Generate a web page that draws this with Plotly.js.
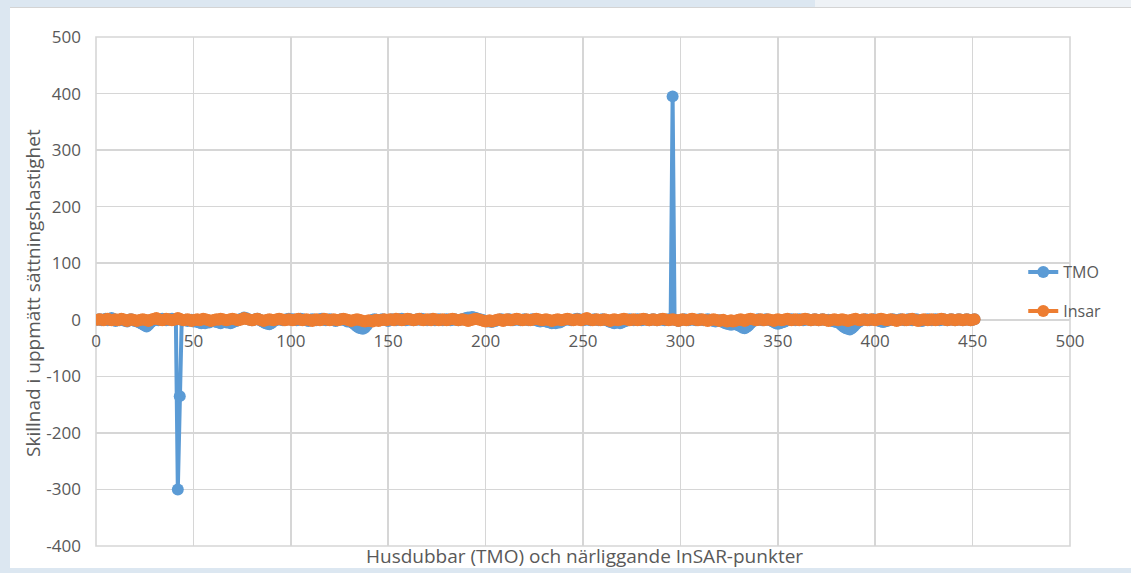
<!DOCTYPE html>
<html>
<head>
<meta charset="utf-8">
<script src="https://cdn.plot.ly/plotly-3.0.1.min.js"></script>
<style>
  html, body { margin: 0; padding: 0; width: 1131px; height: 573px; overflow: hidden; background: #dce7f1; }
  #band { position: absolute; left: 815px; top: 0; width: 316px; height: 7px; background: #eef2f6; }
  #chart { position: absolute; left: 10px; top: 7px; width: 1121px; height: 560px; background: #ffffff;
           border-top: 1px solid #d4d4d4; border-bottom: 1px solid #d8d8d8; box-sizing: border-box; }
</style>
</head>
<body>
<div id="band"></div>
<div id="chart"></div>
<script>
// Differences per point (TMO = Husdubbar, Insar = nearby InSAR points), index 1..451
const tmoValues = [
  0,1,-1,0,2,-1,0,3,1,-2,0,-1,1,0,-2,-3,0,1,-1,-2,
  -3,-4,-6,-8,-10,-12,-9,-5,-2,0,1,-1,0,2,1,-1,0,1,2,0,
  0,-300,-135,0,-1,0,-2,-1,0,-3,-2,-4,-5,-6,-5,-6,-4,-5,-3,-2,
  -3,-4,-5,-6,-4,-3,-5,-4,-6,-5,-3,-2,0,1,2,4,3,1,0,-1,
  0,1,2,0,-2,-4,-6,-7,-8,-6,-3,-1,0,1,0,-1,0,1,2,0,
  1,0,-1,0,2,1,0,-1,-2,0,1,0,-1,0,1,2,0,-1,0,1,
  0,-1,-2,-1,0,1,0,-1,-3,-2,-4,-6,-9,-12,-14,-15,-16,-14,-10,-5,
  -2,0,1,0,-1,0,1,0,-1,-2,0,1,0,-1,0,1,2,0,-1,0,
  1,0,-1,0,1,0,2,1,0,-1,0,1,0,-1,0,1,0,-1,0,1,
  0,-1,0,1,0,-1,0,1,2,3,4,3,5,4,3,2,1,0,-1,-2,
  -3,-2,-4,-3,-2,-1,0,1,0,-1,0,1,0,-1,0,1,0,-1,0,1,
  0,-1,0,1,0,-1,-2,-3,-2,-1,-3,-4,-5,-6,-5,-6,-4,-5,-3,-1,
  0,1,0,-1,0,1,2,1,0,-1,0,1,0,-1,0,1,0,-1,0,1,
  0,-1,-2,-4,-5,-6,-5,-4,-6,-5,-3,-2,0,1,0,-1,0,1,0,-1,
  0,1,0,-1,0,1,0,-1,0,1,0,-1,0,1,0,395,0,-1,-2,-1,
  0,1,0,-1,0,1,0,-1,0,1,0,-1,0,1,0,-1,-2,-3,-2,-1,
  -3,-4,-6,-7,-8,-9,-8,-7,-9,-10,-12,-14,-15,-13,-10,-6,-3,-1,0,1,
  0,-1,0,1,0,-1,-2,-4,-6,-7,-6,-5,-4,-2,-1,0,1,0,-1,0,
  1,0,-1,0,1,0,-1,0,1,0,-1,0,1,0,-1,0,-1,-2,-3,-4,
  -5,-7,-10,-13,-15,-16,-17,-15,-12,-8,-5,-3,-1,0,1,0,-1,0,1,0,
  0,-2,-3,-4,-3,-2,-1,0,1,0,-1,0,1,0,-1,0,1,0,-1,0,
  1,0,-1,-2,-1,0,1,0,-1,0,1,0,-1,0,1,0,-1,0,1,0,
  -1,0,1,0,-1,0,1,0,-1,0,1
];
const insarValues = [
  0,1,0,-1,1,2,0,-1,0,1,-1,0,2,1,-1,-2,0,1,0,-1,
  -2,-1,0,1,0,-1,-2,0,1,2,3,1,0,-1,0,2,1,0,-1,0,
  1,3,2,0,-1,0,1,0,-2,-1,0,1,-1,0,2,1,0,-1,-2,-1,
  0,1,0,2,1,0,-1,0,1,2,1,0,-1,0,1,3,2,1,0,-1,
  0,1,2,0,-1,-2,-1,0,1,0,-1,0,1,2,1,0,-1,0,1,0,
  -1,0,1,2,0,-1,0,1,0,-1,-2,0,1,0,-1,0,2,1,0,-1,
  0,1,0,-1,0,1,2,1,0,-1,-2,-1,0,1,0,-1,-2,-3,-2,-1,
  -2,-3,-1,0,-2,-1,0,1,-1,0,1,0,-1,2,1,0,-1,0,1,2,
  1,0,-1,0,1,2,0,-1,0,1,0,-1,2,1,0,-1,0,1,0,-1,
  0,1,2,1,0,-1,0,1,0,-1,-2,-1,0,1,2,1,0,-1,-2,-3,
  -2,-1,-3,-2,-1,0,1,-1,-2,0,1,0,-1,0,1,2,1,0,-1,0,
  1,0,-1,0,1,2,1,0,-1,0,1,0,-1,-2,-1,0,1,0,-1,0,
  1,2,1,0,-1,0,1,0,-1,0,2,3,1,0,-1,0,1,0,-1,0,
  1,0,-1,-2,0,1,0,-1,0,1,2,1,0,-1,0,1,0,-1,0,1,
  2,1,0,-1,0,1,0,-1,0,1,2,1,0,-1,0,1,0,-1,-2,0,
  1,0,-1,0,1,2,1,0,-1,0,1,0,-1,-2,-1,0,1,0,-1,-2,
  -1,0,-2,-3,-2,-1,-3,-2,-1,0,1,-1,-2,0,1,2,1,0,-1,0,
  1,0,-1,0,1,0,-1,-2,0,1,0,-1,0,1,2,0,-1,0,1,0,
  -1,0,1,2,1,0,-1,0,1,0,-1,0,1,0,-1,-2,-1,0,1,0,
  -1,0,1,0,-1,-2,-1,0,1,2,0,-1,0,1,0,-1,0,1,0,-1,
  0,1,2,1,0,-1,0,1,0,-1,-2,-1,0,1,0,-1,0,1,2,0,
  -1,-2,-1,0,1,0,-1,0,1,0,-1,0,1,2,1,0,-1,0,1,0,
  -1,0,1,0,-1,0,1,0,-1,0,1
];
const pointIndex = tmoValues.map((_, i) => i + 1);
const seriesNames = ['TMO', 'Insar'];
const xTickValues = [0, 50, 100, 150, 200, 250, 300, 350, 400, 450, 500];
const yTickValues = [-400, -300, -200, -100, 0, 100, 200, 300, 400, 500];
const yTitle = 'Skillnad i uppmätt sättningshastighet';
const xTitle = 'Husdubbar (TMO) och närliggande InSAR-punkter';

const FONT = '"Open Sans", "Liberation Sans", sans-serif';
const grid = '#d6d6d6';

const traces = [
  {
    x: pointIndex, y: tmoValues, name: seriesNames[0], type: 'scatter', mode: 'lines+markers',
    line: { color: '#5b9bd5', width: 4 }, marker: { color: '#5b9bd5', size: 12 },
    legend: 'legend'
  },
  {
    x: pointIndex, y: insarValues, name: seriesNames[1], type: 'scatter', mode: 'lines+markers',
    line: { color: '#ed7d31', width: 4 }, marker: { color: '#ed7d31', size: 12 },
    legend: 'legend2'
  }
];

const zeroFrac = (0 - (-400)) / (500 - (-400));

const legendCommon = {
  bgcolor: 'rgba(0,0,0,0)', borderwidth: 0,
  font: { family: FONT, size: 16, color: '#595959' },
  xanchor: 'left', yanchor: 'middle', itemwidth: 30
};

const layout = {
  width: 1121, height: 560,
  margin: { l: 86, r: 61, t: 29, b: 22 },
  paper_bgcolor: '#ffffff', plot_bgcolor: '#ffffff',
  font: { family: FONT, color: '#595959' },
  showlegend: true,
  xaxis: {
    range: [0, 500], tickvals: xTickValues, ticktext: xTickValues.map(String),
    showgrid: true, gridcolor: grid, gridwidth: 1.6,
    zeroline: false, showline: false, ticks: '',
    anchor: 'free', position: zeroFrac, ticklabelstandoff: 9,
    tickfont: { family: FONT, size: 17, color: '#595959' },
    fixedrange: true
  },
  yaxis: {
    range: [-400, 500], domain: [0, 1], tickvals: yTickValues, ticktext: yTickValues.map(String),
    showgrid: true, gridcolor: grid, gridwidth: 1.6,
    zeroline: true, zerolinecolor: grid, zerolinewidth: 1.6,
    showline: false, ticks: '', ticklabelstandoff: 14,
    tickfont: { family: FONT, size: 17, color: '#595959' },
    fixedrange: true
  },
  shapes: [
    { type: 'rect', xref: 'paper', yref: 'paper', x0: 0, x1: 1, y0: 0, y1: 1,
      line: { color: grid, width: 1.6 }, fillcolor: 'rgba(0,0,0,0)', layer: 'below' }
  ],
  legend: Object.assign({}, legendCommon, { x: 0.952, y: (545 - 271) / 509 }),
  legend2: Object.assign({}, legendCommon, { x: 0.952, y: (545 - 310) / 509 }),
  annotations: [
    {
      text: yTitle, xref: 'paper', yref: 'paper', x: (33 - 96) / 974, y: (545 - 292) / 509,
      xanchor: 'center', yanchor: 'middle', textangle: -90, showarrow: false,
      font: { family: FONT, size: 19, color: '#595959' }
    },
    {
      text: xTitle, xref: 'paper', yref: 'paper', x: (584 - 96) / 974, y: (545 - 555) / 509,
      xanchor: 'center', yanchor: 'middle', showarrow: false,
      font: { family: FONT, size: 19, color: '#595959' }
    }
  ]
};

Plotly.newPlot('chart', traces, layout, { displayModeBar: false, staticPlot: true });
</script>
</body>
</html>
